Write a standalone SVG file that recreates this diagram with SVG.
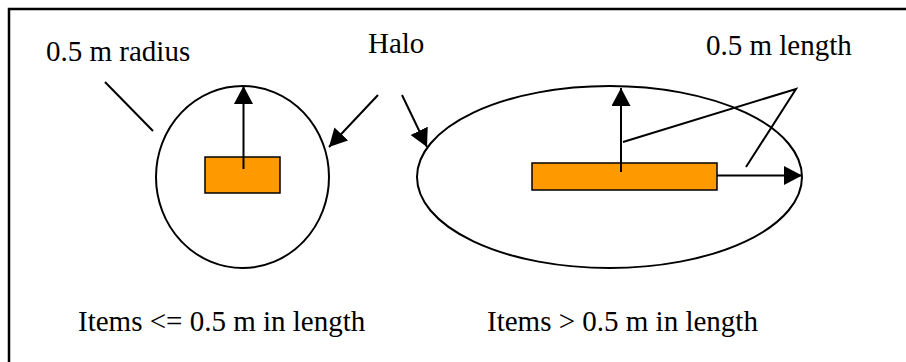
<svg xmlns="http://www.w3.org/2000/svg" width="906" height="362" viewBox="0 0 906 362">
  <style>
    .t { font-family: "Liberation Serif", "Times New Roman", serif; font-size: 29px; fill: #000; }
    .ln { stroke: #000; stroke-width: 2; fill: none; }
    .halo { stroke: #000; stroke-width: 2; fill: none; }
    .item { fill: #FF9900; stroke: #000; stroke-width: 1.5; }
    .arr { marker-end: url(#ah); }
  </style>
  <defs>
    <marker id="ah" markerUnits="userSpaceOnUse" markerWidth="20" markerHeight="20" refX="18" refY="9.5" orient="auto" viewBox="0 0 20 20">
      <path d="M0,0 L18,9.5 L0,19 z" fill="#000"/>
    </marker>
  </defs>
  <rect x="0" y="0" width="906" height="362" fill="#fff"/>
  <g id="frame">
    <rect x="9" y="9" width="920" height="380" fill="none" stroke="#000" stroke-width="2.5"/>
  </g>
  <g id="small-item">
    <ellipse class="halo" cx="242.5" cy="177" rx="86.5" ry="91"/>
    <rect class="item" x="205" y="157" width="75" height="36"/>
  </g>
  <g id="long-item">
    <ellipse class="halo" cx="609.5" cy="177" rx="192.5" ry="91"/>
    <rect class="item" x="532" y="163" width="185" height="27"/>
  </g>
  <g id="labels">
    <text class="t" x="46" y="61">0.5 m radius</text>
    <text class="t" x="368" y="53">Halo</text>
    <text class="t" x="706" y="55">0.5 m length</text>
    <text class="t" x="78" y="331">Items &lt;= 0.5 m in length</text>
    <text class="t" x="487" y="331">Items &gt; 0.5 m in length</text>
  </g>
  <g id="connectors">
    <line class="ln" x1="105" y1="82" x2="153" y2="131"/>
    <line class="ln arr" x1="243.5" y1="169" x2="243.5" y2="86"/>
    <line class="ln arr" x1="378" y1="95" x2="329" y2="147"/>
    <line class="ln arr" x1="402" y1="95" x2="427" y2="147"/>
    <line class="ln arr" x1="621" y1="172" x2="621" y2="88"/>
    <line class="ln arr" x1="717" y1="175.5" x2="802" y2="175.5"/>
    <polyline class="ln" points="623,142 796,89 746,167"/>
  </g>
</svg>
